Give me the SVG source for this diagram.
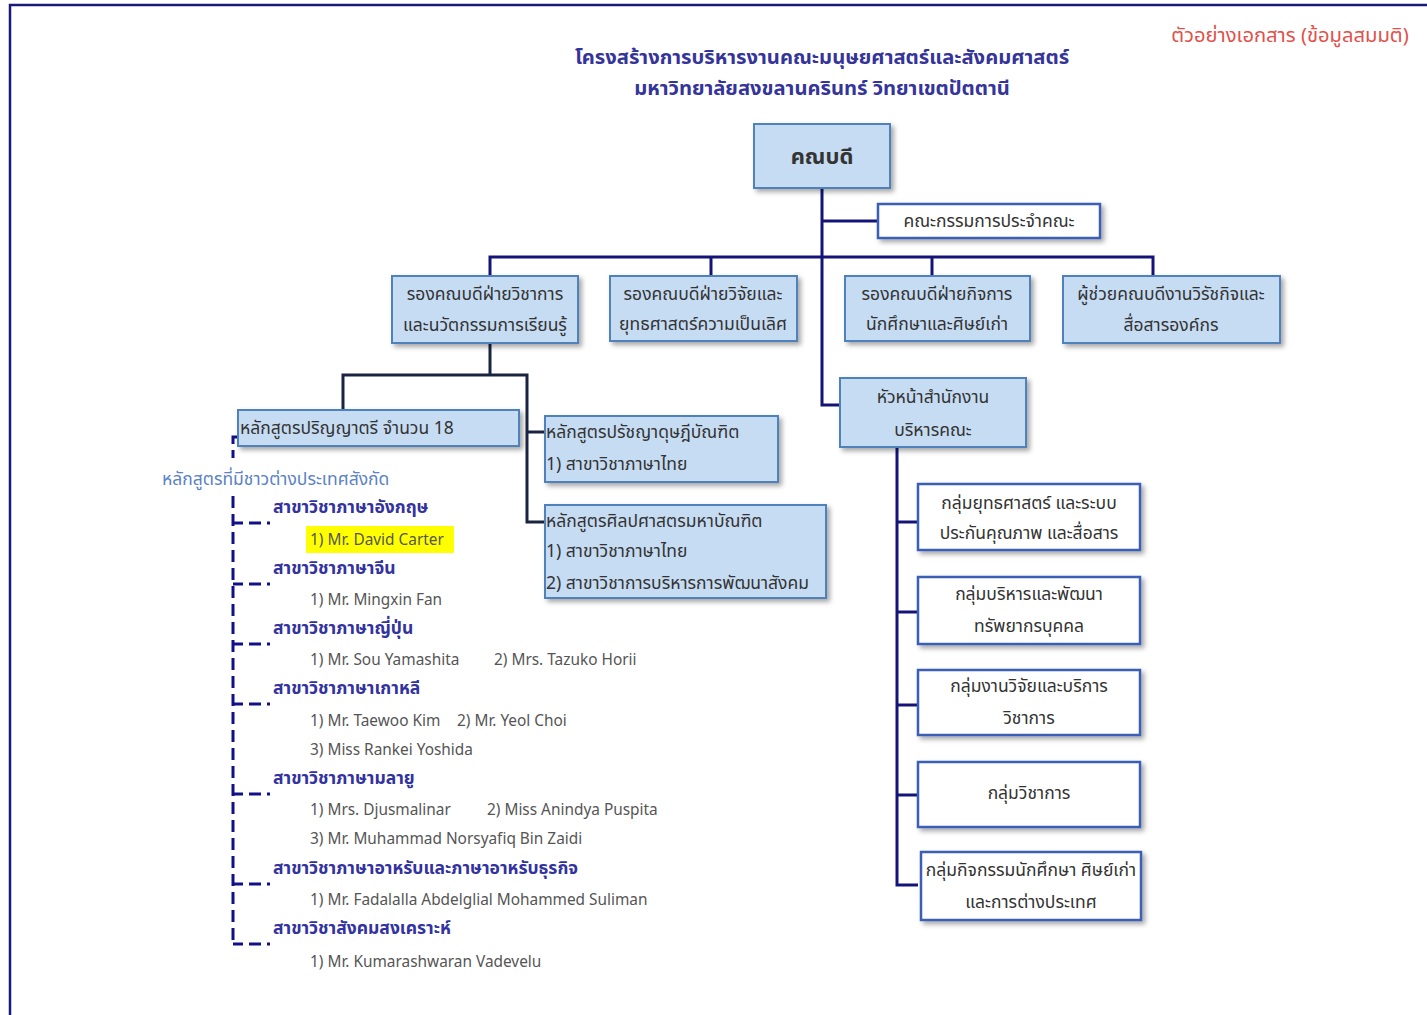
<svg xmlns="http://www.w3.org/2000/svg" width="1427" height="1015" viewBox="0 0 1427 1015">
<defs>
<filter id="sh" x="-10%" y="-20%" width="125%" height="150%">
<feDropShadow dx="3" dy="3" stdDeviation="2.5" flood-color="#000" flood-opacity="0.35"/>
</filter>
</defs>
<style>
text{font-family:"Noto Sans Thai","Tahoma","Liberation Sans","Noto Sans",sans-serif}
.blue{fill:#c6dcf3;stroke:#4f81bd;stroke-width:2}
.white{fill:#ffffff;stroke:#3b5fb5;stroke-width:2.5}
.t{font-size:17.5px;fill:#333;text-anchor:middle}
.tl{font-size:17.5px;fill:#333}
.ln{fill:none;stroke:#141478;stroke-width:3}
.ln2{fill:none;stroke:#1a2340;stroke-width:3}
.dash{fill:none;stroke:#10108a;stroke-width:3;stroke-dasharray:12 6}
.br{fill:none;stroke:#10108a;stroke-width:3;stroke-dasharray:10 6 12 6 3}
.hd{font-size:17.5px;fill:#3232a0;font-weight:bold}
.nm{font-size:15.4px;fill:#555}
</style>
<rect x="0" y="0" width="1427" height="1015" fill="#fff"/>
<path d="M10 1015 V5 H1427" fill="none" stroke="#1a1a7a" stroke-width="2.5"/>
<g id="title">
<text x="822" y="64" text-anchor="middle" font-size="20.2" font-weight="bold" fill="#34349a">โครงสร้างการบริหารงานคณะมนุษยศาสตร์และสังคมศาสตร์</text>
<text x="822" y="95" text-anchor="middle" font-size="20.2" font-weight="bold" fill="#34349a">มหาวิทยาลัยสงขลานครินทร์ วิทยาเขตปัตตานี</text>
</g>
<g id="watermark"><text x="1290" y="42" text-anchor="middle" font-size="20.2" fill="#e2504a">ตัวอย่างเอกสาร (ข้อมูลสมมติ)</text></g>

<g id="connectors">
<path class="ln" d="M822 188 V405 H840"/>
<path class="ln" d="M822 221 H878"/>
<path class="ln" d="M490 276 V257 H1153 V276"/>
<path class="ln" d="M711 257 V276"/>
<path class="ln" d="M932 257 V276"/>
<path class="ln2" d="M490 343 V375"/>
<path class="ln2" d="M343 410 V375 H527 V522 H545"/>
<path class="ln2" d="M527 432 H545"/>
<path class="ln" d="M897 447 V885 H918"/>
<path class="ln" d="M897 522 H918"/>
<path class="ln" d="M897 612 H918"/>
<path class="ln" d="M897 705 H918"/>
<path class="ln" d="M897 795 H918"/>
<path class="dash" d="M238 437 H233 V458"/>
<path class="dash" d="M233 496 V944"/>
<path class="br" d="M233 523 H270"/>
<path class="br" d="M233 584 H270"/>
<path class="br" d="M233 644 H270"/>
<path class="br" d="M233 704 H270"/>
<path class="br" d="M233 794 H270"/>
<path class="br" d="M233 884 H270"/>
<path class="br" d="M233 944 H270"/>
</g>

<g id="dean"><rect class="blue" x="754" y="124" width="136" height="64" filter="url(#sh)"/><text x="822" y="164" text-anchor="middle" font-size="22" font-weight="bold" fill="#333">คณบดี</text></g>
<g id="committee"><rect class="white" x="878" y="204" width="222" height="34" filter="url(#sh)"/><text class="t" x="989" y="227" font-size="16.5">คณะกรรมการประจำคณะ</text></g>

<g id="vd-academic"><rect class="blue" x="392" y="276" width="186" height="67" filter="url(#sh)"/><text class="t" x="485" y="300">รองคณบดีฝ่ายวิชาการ</text><text class="t" x="485" y="331">และนวัตกรรมการเรียนรู้</text></g>
<g id="vd-research"><rect class="blue" x="610" y="276" width="187" height="65" filter="url(#sh)"/><text class="t" x="703" y="300">รองคณบดีฝ่ายวิจัยและ</text><text class="t" x="703" y="330">ยุทธศาสตร์ความเป็นเลิศ</text></g>
<g id="vd-student"><rect class="blue" x="845" y="276" width="185" height="65" filter="url(#sh)"/><text class="t" x="937" y="300">รองคณบดีฝ่ายกิจการ</text><text class="t" x="937" y="330">นักศึกษาและศิษย์เก่า</text></g>
<g id="ad-intl"><rect class="blue" x="1063" y="276" width="217" height="67" filter="url(#sh)"/><text class="t" x="1171" y="300">ผู้ช่วยคณบดีงานวิรัชกิจและ</text><text class="t" x="1171" y="331">สื่อสารองค์กร</text></g>

<g id="bachelor"><rect class="blue" x="238" y="410" width="281" height="36" filter="url(#sh)"/><text class="tl" x="240" y="434">หลักสูตรปริญญาตรี จำนวน 18</text></g>
<g id="phd"><rect class="blue" x="545" y="416" width="233" height="66" filter="url(#sh)"/><text class="tl" x="546" y="438">หลักสูตรปรัชญาดุษฎีบัณฑิต</text><text class="tl" x="546" y="470">1) สาขาวิชาภาษาไทย</text></g>
<g id="master"><rect class="blue" x="545" y="505" width="281" height="93" filter="url(#sh)"/><text class="tl" x="546" y="527">หลักสูตรศิลปศาสตรมหาบัณฑิต</text><text class="tl" x="546" y="557">1) สาขาวิชาภาษาไทย</text><text class="tl" x="546" y="589">2) สาขาวิชาการบริหารการพัฒนาสังคม</text></g>

<g id="office-head"><rect class="blue" x="840" y="378" width="186" height="69" filter="url(#sh)"/><text class="t" x="933" y="403">หัวหน้าสำนักงาน</text><text class="t" x="933" y="436">บริหารคณะ</text></g>
<g id="grp-strategy"><rect class="white" x="918" y="484" width="222" height="66" filter="url(#sh)"/><text class="t" x="1029" y="509">กลุ่มยุทธศาสตร์ และระบบ</text><text class="t" x="1029" y="539">ประกันคุณภาพ และสื่อสาร</text></g>
<g id="grp-hr"><rect class="white" x="918" y="577" width="222" height="67" filter="url(#sh)"/><text class="t" x="1029" y="600">กลุ่มบริหารและพัฒนา</text><text class="t" x="1029" y="632">ทรัพยากรบุคคล</text></g>
<g id="grp-research"><rect class="white" x="918" y="670" width="222" height="65" filter="url(#sh)"/><text class="t" x="1029" y="692">กลุ่มงานวิจัยและบริการ</text><text class="t" x="1029" y="724">วิชาการ</text></g>
<g id="grp-academic"><rect class="white" x="918" y="762" width="222" height="65" filter="url(#sh)"/><text class="t" x="1029" y="799">กลุ่มวิชาการ</text></g>
<g id="grp-activity"><rect class="white" x="921" y="852" width="220" height="68" filter="url(#sh)"/><text class="t" x="1031" y="876">กลุ่มกิจกรรมนักศึกษา ศิษย์เก่า</text><text class="t" x="1031" y="908">และการต่างประเทศ</text></g>

<g id="foreign-list">
<text x="162" y="485" font-size="17.5" fill="#5b82c4">หลักสูตรที่มีชาวต่างประเทศสังกัด</text>
<text class="hd" x="273" y="513">สาขาวิชาภาษาอังกฤษ</text>
<rect x="306" y="526" width="148" height="27" fill="#ffff00"/>
<text class="nm" x="310" y="545">1) Mr. David Carter</text>
<text class="hd" x="273" y="574">สาขาวิชาภาษาจีน</text>
<text class="nm" x="310" y="605">1) Mr. Mingxin Fan</text>
<text class="hd" x="273" y="634">สาขาวิชาภาษาญี่ปุ่น</text>
<text class="nm" x="310" y="665">1) Mr. Sou Yamashita</text>
<text class="nm" x="494" y="665">2) Mrs. Tazuko Horii</text>
<text class="hd" x="273" y="694">สาขาวิชาภาษาเกาหลี</text>
<text class="nm" x="310" y="726">1) Mr. Taewoo Kim</text>
<text class="nm" x="457" y="726">2) Mr. Yeol Choi</text>
<text class="nm" x="310" y="755">3) Miss Rankei Yoshida</text>
<text class="hd" x="273" y="784">สาขาวิชาภาษามลายู</text>
<text class="nm" x="310" y="815">1) Mrs. Djusmalinar</text>
<text class="nm" x="487" y="815">2) Miss Anindya Puspita</text>
<text class="nm" x="310" y="844">3) Mr. Muhammad Norsyafiq Bin Zaidi</text>
<text class="hd" x="273" y="874">สาขาวิชาภาษาอาหรับและภาษาอาหรับธุรกิจ</text>
<text class="nm" x="310" y="905">1) Mr. Fadalalla Abdelglial Mohammed Suliman</text>
<text class="hd" x="273" y="934">สาขาวิชาสังคมสงเคราะห์</text>
<text class="nm" x="310" y="967">1) Mr. Kumarashwaran Vadevelu</text>
</g>
</svg>
